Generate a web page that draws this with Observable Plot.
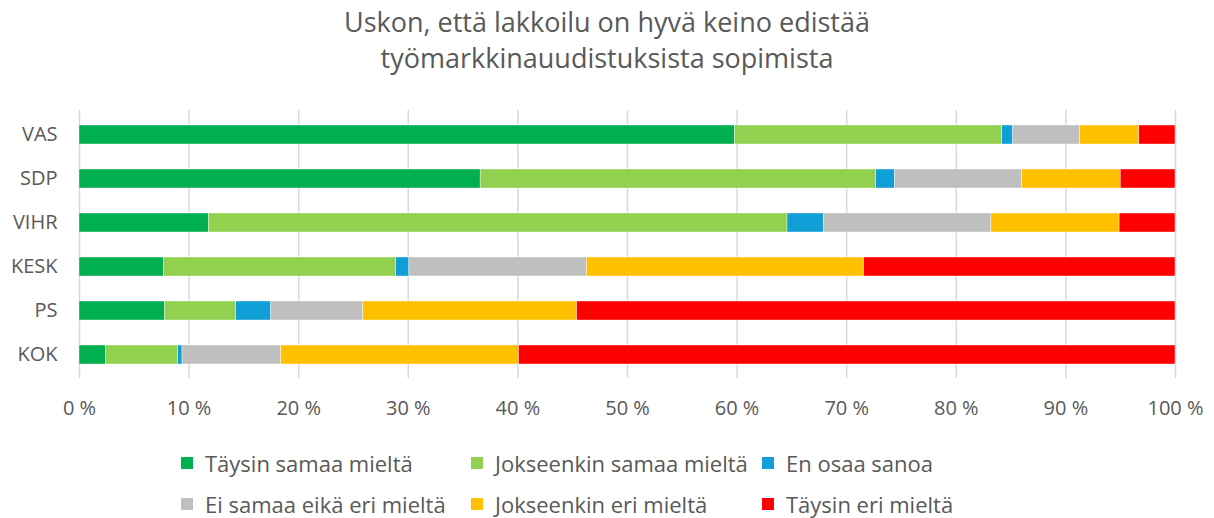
<!DOCTYPE html>
<html><head><meta charset="utf-8">
<script src="https://cdn.jsdelivr.net/npm/d3@7"></script>
<script src="https://cdn.jsdelivr.net/npm/@observablehq/plot@0.6"></script>
<style>
body{margin:0;background:#fff;font-family:"Open Sans",sans-serif;color:#595959;overflow:hidden;}
#title{width:1214px;text-align:center;font-size:27px;line-height:36px;padding-top:4px;height:76px;}
#legend{width:1214px;position:relative;height:95px;font-size:22px;}
.li{position:absolute;display:flex;align-items:center;white-space:nowrap;line-height:26px;}
.sw{width:12px;height:12px;margin-right:12px;}
</style></head><body>
<div id="title">Uskon, että lakkoilu on hyvä keino edistää<br>työmarkkinauudistuksista sopimista</div>
<div id="chart"></div>
<div id="legend"></div>
<script>
const parties = ["VAS","SDP","VIHR","KESK","PS","KOK"];
const answers = ["Täysin samaa mieltä","Jokseenkin samaa mieltä","En osaa sanoa","Ei samaa eikä eri mieltä","Jokseenkin eri mieltä","Täysin eri mieltä"];
const colors = ["#00b050","#92d050","#0f9ed5","#bfbfbf","#ffc000","#ff0000"];
const taysinSamaa   = [59.8, 36.6, 11.8, 7.7, 7.8, 2.4];
const jokseenSamaa  = [24.4, 36.1, 52.8, 21.2, 6.5, 6.6];
const enOsaa        = [1.0, 1.7, 3.3, 1.2, 3.2, 0.4];
const eiSamaaEiEri  = [6.1, 11.6, 15.3, 16.2, 8.4, 9.0];
const jokseenEri    = [5.4, 9.0, 11.7, 25.3, 19.5, 21.7];
const taysinEri     = [3.3, 5.0, 5.1, 28.4, 54.6, 59.9];
const xTicks = [0,10,20,30,40,50,60,70,80,90,100];

const series = [taysinSamaa, jokseenSamaa, enOsaa, eiSamaaEiEri, jokseenEri, taysinEri];
const data = [];
parties.forEach((p,i)=>series.forEach((s,j)=>data.push({party:p, answer:answers[j], value:s[i]})));

const chart = Plot.plot({
  width:1214, height:343,
  marginLeft:79, marginRight:39, marginTop:30, marginBottom:45,
  style:{fontFamily:"Open Sans, sans-serif", fontSize:"20px", color:"#595959", background:"white"},
  x:{domain:[0,100], ticks:xTicks, tickFormat:d=>d+" %", label:null, tickSize:0, tickPadding:22},
  y:{domain:parties, label:null, paddingInner:0.576, paddingOuter:0.28, tickSize:0, tickPadding:22},
  color:{domain:answers, range:colors},
  marks:[
    Plot.ruleX(xTicks,{stroke:"#d9d9d9", strokeWidth:1.5}),
    Plot.barX(data, Plot.stackX({x:"value", y:"party", fill:"answer", order:answers, stroke:"white", strokeWidth:0.4})),
  ]
});
document.getElementById("chart").appendChild(chart);

const leg = document.getElementById("legend");
const cols = [181, 471, 762];
const rows = [40, 81];
answers.forEach((a,i)=>{
  const d = document.createElement("div");
  d.className="li";
  d.style.left = cols[i%3]+"px";
  d.style.top = (rows[Math.floor(i/3)]-13)+"px";
  d.style.height="26px";
  d.innerHTML = `<div class="sw" style="background:${colors[i]}"></div><span>${a}</span>`;
  leg.appendChild(d);
});
</script>
</body></html>
